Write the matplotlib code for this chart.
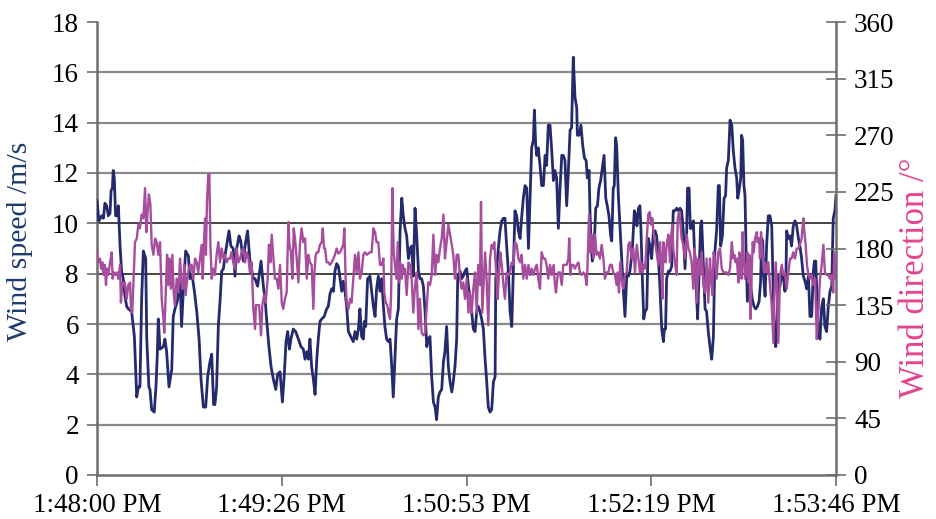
import matplotlib
matplotlib.use("Agg")
import matplotlib.pyplot as plt
from matplotlib.ticker import FixedLocator

# Wind speed record (seconds after 1:48:00 PM, m/s)
speed_t = [
    0.0, 0.9, 2.2, 3.0, 3.7, 4.5, 5.3, 6.1, 6.6, 7.2, 7.6, 8.1, 8.7, 9.4, 10.0,
    10.8, 11.5, 12.3, 13.1, 13.9, 14.7, 16.2, 17.5, 18.6, 19.4, 20.1, 20.9, 21.7, 22.8, 23.3,
    24.3, 24.8, 25.6, 26.8, 27.6, 28.2, 28.7, 29.5, 31.1, 31.8, 32.6, 33.7, 35.0, 35.7, 36.5,
    37.6, 38.9, 39.6, 40.4, 41.5, 42.8, 43.5,
    44.6, 45.6, 46.7, 47.8, 48.7, 49.8, 50.9, 51.8, 52.9, 53.7, 54.6, 55.2, 56.0, 56.8, 57.6,
    58.4, 59.2, 59.9, 61.2, 61.8, 62.7, 63.8, 64.6, 65.4, 66.5, 67.3, 68.5, 69.3, 70.5, 71.6,
    73.2, 74.0, 75.2, 76.8, 77.9, 78.7, 79.4, 80.5, 81.5, 82.6, 83.7, 84.6, 85.7,
    86.8, 87.7, 88.5, 89.3, 90.1, 90.8, 91.9, 93.0, 94.3, 95.5, 96.6, 97.4, 98.2, 99.0, 99.7,
    100.5, 101.3, 102.1, 102.9, 103.6, 104.4, 105.2, 106.4, 107.5, 108.3, 109.1, 109.9, 110.7,
    111.4, 112.2, 113.0, 113.8, 114.6, 115.3, 116.1, 116.9, 117.7, 118.8, 120.0, 120.8, 121.6,
    122.4, 123.1, 123.9, 124.7, 125.2, 125.8, 126.7, 127.8,
    128.6, 129.4, 130.2, 130.9, 131.7, 132.5, 133.3, 134.1, 134.8, 135.6, 136.4, 137.2, 138.0,
    138.7, 139.5, 140.3, 141.1, 141.9, 142.7, 143.4, 144.2, 145.0, 145.8, 146.6, 147.3, 148.1,
    148.9, 149.7, 150.5, 151.2, 152.0, 152.8, 153.6, 154.4, 155.1, 155.9, 156.7, 157.5, 158.3,
    159.0, 159.8, 160.6, 161.4, 162.2, 162.9, 163.7, 164.5, 165.3, 166.1, 166.8, 167.6, 168.4,
    168.9, 170.0,
    170.7, 171.5, 172.3, 173.1, 173.9, 174.6, 175.4, 176.2, 177.0, 177.8, 178.5, 179.3, 180.1,
    180.9, 181.7, 182.4, 183.2, 184.0, 184.8, 185.6, 186.4, 186.7, 187.1, 187.9, 188.7, 189.5,
    190.3, 191.0, 191.8, 192.6, 193.4, 194.2, 194.9, 195.7, 196.5, 197.3, 198.1, 198.8, 199.6,
    200.4, 201.2, 202.0, 202.7, 203.5, 204.3, 204.8, 205.4, 205.9, 206.6, 207.4, 208.2, 209.0,
    209.8, 210.5, 211.3, 212.1,
    212.9, 213.7, 214.4, 215.2, 216.0, 216.8, 217.6, 218.3, 219.1, 219.9, 220.7, 221.5, 222.2,
    223.0, 223.8, 224.6, 224.9, 225.7, 226.6, 227.4, 228.2, 229.0, 229.6, 230.4, 230.8, 231.3,
    231.9, 232.7, 233.5, 234.3, 235.0, 235.8, 236.6, 237.4, 238.2, 238.9, 239.7, 240.5, 241.0,
    241.7, 242.2, 242.8, 243.3, 244.1, 244.9, 245.6, 246.4, 247.2, 248.0, 248.8, 249.5, 250.6,
    251.6, 252.2, 252.8, 253.5, 254.2,
    254.7, 255.3, 256.0, 256.6, 257.4, 258.1, 258.9, 259.7, 260.5, 261.3, 262.0, 262.8, 263.6,
    264.4, 265.2, 265.6, 266.2, 266.7, 267.5, 268.3, 269.1, 269.8, 270.6, 271.4, 272.2, 273.0,
    273.7, 274.5, 275.3, 276.1, 276.5, 277.2, 277.8, 278.4, 279.2, 280.0, 280.8, 281.2, 281.9,
    282.6, 283.1, 283.9, 284.7, 285.4, 286.2, 287.0, 287.8, 288.6, 289.3, 290.1, 290.9, 291.4,
    292.0, 292.8, 293.6, 294.3, 294.8, 295.6, 296.4,
    297.2, 297.9, 298.7, 299.5, 300.0, 300.6, 301.4, 301.8, 302.3, 302.9, 303.4, 303.9, 304.5,
    305.3, 305.7, 306.2, 306.8, 307.6, 308.4, 309.2, 310.0, 310.7, 311.2, 311.7, 312.1, 312.8,
    313.5, 314.3, 315.1, 315.9, 316.3, 317.0, 317.8, 318.4, 319.0, 319.8, 320.6, 321.3, 322.1,
    322.6, 322.9, 323.7, 324.5, 325.2, 326.0, 326.8, 327.6, 328.4, 329.1, 329.9, 330.7, 331.5,
    332.3, 333.1, 333.8, 334.6, 335.4, 335.9, 336.5, 337.1, 337.7, 338.5,
    339.3, 340.1, 340.8, 341.6, 342.4, 343.2, 344.0, 344.7, 345.5, 346.0,
]
speed_ms = [
    10.9, 10.1, 10.3, 10.2, 10.8, 10.7, 10.3, 10.4, 11.3, 11.4, 12.1, 11.8, 10.3, 10.3, 10.7,
    9.1, 8.1, 7.8, 7.1, 6.7, 6.6, 6.5, 5.5, 3.1, 3.5, 3.5, 7.0, 8.9, 8.6, 5.4,
    3.5, 3.4, 2.6, 2.5, 3.5, 4.7, 6.2, 5.0, 5.1, 5.4, 4.9, 3.5, 4.2, 6.3, 6.6,
    6.9, 7.8, 5.9, 7.3, 8.9, 8.7, 7.8,
    7.9, 7.3, 6.5, 5.4, 3.8, 2.7, 2.7, 3.9, 4.5, 4.8, 2.8, 2.8, 3.5, 5.9, 6.9,
    8.1, 8.2, 8.7, 9.4, 9.7, 9.1, 9.0, 7.9, 9.0, 9.5, 9.3, 8.5, 9.1, 9.7, 8.5,
    7.8, 7.8, 7.5, 8.5, 7.5, 7.0, 6.2, 5.1, 4.3, 3.8, 3.4, 4.0, 4.1,
    2.9, 4.0, 5.3, 5.7, 5.0, 5.4, 5.8, 5.7, 5.4, 5.1, 5.0, 4.6, 4.9, 4.6, 5.4,
    4.3, 3.8, 3.2, 4.6, 5.4, 6.1, 6.2, 6.3, 6.6, 6.7, 7.2, 7.4, 7.3,
    8.1, 8.4, 8.3, 7.8, 7.3, 7.7, 7.3, 6.7, 5.7, 5.5, 5.3, 5.7, 5.4,
    5.8, 6.6, 5.5, 5.4, 6.1, 5.9, 7.8, 7.9,
    7.3, 6.7, 6.3, 7.4, 7.9, 7.3, 7.8, 6.7, 5.9, 5.4, 5.3, 5.4, 4.3,
    3.1, 4.7, 6.2, 6.6, 9.7, 11.0, 10.3, 9.8, 9.5, 8.6, 9.0, 9.1, 7.9,
    10.6, 9.5, 8.1, 7.8, 7.8, 7.5, 6.5, 5.1, 5.4, 5.5, 3.9, 2.9, 2.7,
    2.2, 3.1, 3.3, 3.4, 4.5, 4.9, 5.9, 4.3, 3.7, 3.3, 3.7, 4.3, 5.4,
    7.9, 8.1,
    7.8, 7.9, 8.1, 8.2, 7.5, 7.1, 6.5, 5.8, 5.7, 6.5, 6.7, 6.5, 6.2,
    5.8, 4.6, 3.8, 2.7, 2.5, 2.6, 3.7, 3.9, 7.8, 8.1, 9.0, 9.7, 10.1,
    10.2, 10.2, 9.1, 8.1, 6.5, 5.9, 8.1, 10.5, 10.3, 9.7, 9.4, 10.2, 11.0,
    11.5, 11.4, 9.0, 10.9, 13.0, 13.3, 14.5, 13.1, 12.7, 13.0, 12.3, 11.5, 11.5,
    12.7, 12.3, 13.9, 13.9,
    12.9, 11.7, 12.1, 11.8, 9.8, 11.4, 12.7, 12.7, 12.5, 10.7, 12.1, 13.7, 13.8,
    16.6, 15.0, 14.6, 13.5, 13.5, 13.9, 13.1, 12.6, 12.5, 11.8, 12.1, 10.5, 9.3,
    8.5, 8.9, 10.6, 10.7, 11.4, 11.7, 12.2, 12.7, 11.0, 10.7, 10.3, 9.5, 9.3,
    11.4, 11.5, 13.4, 13.1, 11.1, 9.8, 8.6, 7.4, 6.3, 7.9, 7.9, 8.1, 8.9,
    10.5, 10.3, 9.9, 10.6, 10.7,
    9.7, 7.9, 6.2, 6.5, 6.6, 9.4, 9.1, 8.6, 9.7, 9.7, 9.5, 8.7, 7.4,
    5.8, 5.3, 5.8, 5.8, 7.8, 8.1, 8.1, 8.3, 10.5, 10.5, 10.6, 10.5, 10.6,
    10.5, 9.7, 8.2, 9.7, 11.4, 11.4, 9.8, 9.8, 10.1, 8.3, 7.0, 6.2, 8.1,
    9.9, 10.1, 8.3, 6.6, 6.5, 5.7, 5.1, 4.6, 5.5, 8.9, 9.7, 11.5, 11.5,
    9.1, 9.5, 11.0, 11.1, 12.2, 12.5, 14.1,
    13.9, 12.9, 12.2, 11.8, 11.0, 11.3, 11.8, 13.5, 13.3, 11.5, 11.1, 8.9, 6.9,
    8.6, 8.6, 7.4, 7.0, 6.7, 6.6, 6.7, 6.9, 7.7, 9.4, 9.3, 7.9, 7.1,
    9.1, 10.3, 10.3, 9.9, 8.5, 5.7, 5.1, 6.3, 7.9, 7.5, 8.1, 7.9, 7.3,
    8.1, 9.7, 9.4, 9.5, 9.1, 9.9, 10.1, 9.9, 9.4, 9.1, 8.6, 7.9, 7.7,
    7.4, 7.9, 6.3, 6.3, 8.1, 8.5, 8.5, 7.1, 5.7, 5.4,
    6.7, 7.0, 5.9, 5.7, 6.7, 7.3, 7.5, 10.2, 10.5, 11.1,
]

# Wind direction record (seconds after 1:48:00 PM, degrees)
dir_t = [
    0.0, 0.6, 1.4, 1.9, 2.5, 3.0, 3.7, 4.2, 4.7, 5.3, 6.1, 6.9, 7.3, 8.0, 8.7,
    9.4, 10.0, 10.8, 11.2, 11.9, 12.5, 13.1, 13.9, 14.7, 15.5, 15.9, 16.5, 17.2, 17.8, 18.6,
    19.4, 20.1, 20.9, 21.7, 22.5, 23.1, 23.7, 24.3, 25.0, 25.6, 26.4, 27.2, 27.9, 28.7, 29.5,
    30.3, 31.1, 31.5, 32.2, 32.8, 33.4, 34.0, 34.6, 35.3, 35.9, 36.5, 37.3, 38.1, 38.9, 39.6,
    40.3, 40.9, 41.5, 42.4, 43.5,
    44.3, 45.1, 45.9, 46.7, 47.4, 48.2, 49.0, 49.5, 49.9, 50.6, 51.0, 51.5, 52.1, 52.6, 53.1,
    53.7, 54.5, 55.2, 56.0, 56.8, 57.6, 58.4, 59.2, 59.9, 60.7, 61.5, 62.3, 63.0, 63.8, 64.6,
    65.4, 66.2, 67.0, 67.7, 68.5, 69.3, 70.1, 70.9, 71.6, 72.4, 73.2, 74.0, 74.4, 75.1, 75.9,
    76.8, 77.4, 78.3, 79.0, 79.9, 80.5, 81.2, 81.8, 82.6, 83.3, 84.1, 84.9, 85.7,
    86.5, 87.2, 88.0, 88.8, 89.6, 90.1, 90.8, 91.5, 92.1, 92.7, 93.5, 94.3, 95.0, 95.8, 96.6,
    97.4, 98.2, 99.0, 99.7, 100.5, 101.3, 101.8, 102.4, 103.0, 103.6, 104.4, 105.2, 105.7,
    106.3, 106.8, 107.5, 108.3, 109.1, 109.9, 110.7, 111.4, 112.2, 113.0, 113.8, 114.6, 115.3,
    115.8, 116.4, 116.9, 117.7, 118.5, 119.2, 120.0, 120.8, 121.6, 122.4, 123.1, 123.9, 124.7,
    125.5, 126.3, 127.8,
    128.6, 129.4, 130.2, 130.9, 131.7, 132.5, 133.3, 134.1, 134.5, 135.2, 135.9, 136.7, 137.2,
    137.7, 138.3, 138.9, 139.5, 140.2, 140.8, 141.4, 142.0, 142.7, 143.1, 143.7, 144.2, 145.0,
    145.8, 146.6, 147.3, 148.1, 148.9, 149.7, 150.5, 151.2, 152.0, 152.8, 153.6, 154.4, 155.1,
    155.9, 156.7, 157.5, 158.3, 159.0, 159.8, 160.6, 161.4, 162.2, 162.9, 163.7, 164.5, 165.3,
    166.1, 166.8, 167.6, 168.4, 169.2, 170.0,
    170.7, 171.5, 172.3, 173.1, 173.9, 174.6, 175.4, 176.2, 177.0, 177.8, 178.5, 179.3, 179.8,
    180.4, 181.2, 181.7, 182.4, 183.2, 184.0, 184.8, 185.6, 186.0, 186.7, 187.1, 187.6, 188.2,
    188.8, 189.5, 190.3, 191.0, 191.8, 192.6, 193.4, 194.2, 194.9, 195.7, 196.5, 197.3, 198.1,
    198.8, 199.6, 200.4, 201.2, 202.0, 202.7, 203.5, 204.3, 205.1, 205.9, 206.6, 207.4, 208.2,
    209.0, 209.8, 210.5, 211.3, 212.1,
    212.9, 213.8, 214.4, 214.9, 215.5, 216.0, 216.8, 217.6, 218.3, 219.1, 219.9, 220.7, 221.1,
    221.6, 222.2, 223.0, 223.8, 224.6, 225.4, 226.1, 226.9, 227.7, 228.5, 229.3, 229.7, 230.4,
    231.0, 231.6, 232.4, 233.2, 233.9, 234.7, 235.5, 236.3, 237.1, 237.8, 238.6, 239.4, 240.2,
    241.0, 241.7, 242.5, 243.3, 243.8, 244.4, 245.0, 245.6, 246.4, 247.2, 248.0, 248.8, 249.5,
    250.3, 251.1, 251.9, 252.7, 253.5, 254.2,
    254.7, 255.3, 256.0, 256.6, 257.4, 258.1, 258.8, 259.4, 260.0, 260.5, 261.3, 262.0, 262.8,
    263.6, 264.1, 264.7, 265.2, 265.6, 266.2, 266.7, 267.5, 268.3, 268.7, 269.4, 269.8, 270.6,
    271.4, 271.9, 272.5, 273.1, 273.7, 274.5, 275.3, 276.1, 276.9, 277.6, 278.4, 279.2, 279.7,
    280.3, 280.9, 281.5, 282.3, 283.1, 283.9, 284.7, 285.4, 286.2, 287.0, 287.5, 288.1, 288.7,
    289.3, 290.1, 290.9, 291.7, 292.5, 293.3, 294.0, 294.8, 295.6, 296.4,
    297.2, 297.9, 298.4, 299.0, 299.6, 300.3, 300.7, 301.2, 301.8, 302.3, 302.8, 303.4, 303.9,
    304.5, 305.0, 305.4, 306.0, 306.5, 307.0, 307.5, 308.1, 308.9, 309.3, 310.0, 310.4, 310.9,
    311.5, 312.3, 312.8, 313.5, 314.3, 315.1, 315.9, 316.7, 317.1, 317.8, 318.4, 319.0, 319.8,
    320.6, 321.3, 322.1, 322.9, 323.7, 324.5, 325.2, 326.0, 326.8, 327.6, 328.4, 329.1, 329.9,
    330.7, 331.2, 331.8, 332.4, 333.1, 333.8, 334.6, 335.4, 336.2, 337.0, 337.7, 338.5,
    339.3, 340.1, 340.8, 341.6, 342.4, 343.2, 344.0, 344.7, 345.2, 346.0,
]
direction_deg = [
    178, 169, 172, 164, 169, 159, 167, 151, 164, 159, 169, 177, 156, 161, 159,
    161, 156, 167, 137, 153, 151, 153, 140, 151, 153, 132, 129, 159, 185, 188,
    199, 196, 207, 204, 228, 193, 209, 223, 215, 183, 175, 188, 185, 175, 185,
    140, 124, 113, 145, 175, 151, 172, 148, 175, 145, 135, 156, 145, 172, 151,
    148, 167, 143, 159, 167,
    167, 156, 172, 169, 161, 172, 183, 156, 177, 204, 175, 217, 239, 239, 183,
    156, 164, 159, 175, 185, 169, 180, 172, 175, 169, 172, 172, 177, 169, 164,
    180, 169, 172, 177, 180, 169, 177, 172, 161, 169, 132, 116, 135, 135, 135,
    111, 135, 143, 137, 156, 183, 169, 191, 172, 156, 156, 148, 167,
    137, 132, 140, 145, 201, 183, 177, 156, 196, 188, 172, 153, 183, 196, 185,
    188, 156, 175, 169, 167, 132, 161, 175, 177, 177, 183, 185, 196,
    180, 180, 169, 169, 167, 169, 172, 175, 180, 176, 177, 180, 183,
    196, 156, 137, 132, 140, 137, 156, 175, 161, 177, 156, 161, 175,
    177, 175, 177,
    177, 196, 193, 185, 185, 167, 167, 172, 145, 137, 135, 127, 124,
    143, 228, 177, 167, 156, 185, 153, 169, 156, 167, 161, 164, 143,
    169, 167, 156, 129, 151, 161, 116, 140, 113, 111, 113, 135, 153,
    151, 159, 191, 159, 175, 169, 180, 188, 207, 172, 185, 199, 191,
    183, 175, 156, 175, 175, 156,
    148, 153, 140, 156, 129, 145, 129, 148, 161, 129, 167, 151, 217,
    129, 159, 177, 156, 119, 172, 183, 180, 185, 167, 156, 140, 161,
    177, 167, 151, 140, 161, 159, 161, 169, 167, 185, 183, 172, 169,
    175, 156, 167, 156, 167, 159, 164, 159, 164, 167, 156, 148, 177,
    172, 172, 167, 156, 167,
    159, 167, 151, 145, 156, 161, 161, 151, 167, 167, 167, 172, 188,
    159, 167, 167, 164, 167, 169, 161, 159, 161, 159, 151, 169, 207,
    177, 191, 172, 191, 175, 177, 172, 183, 172, 156, 161, 161, 167,
    167, 161, 159, 151, 161, 145, 169, 156, 148, 159, 161, 183, 185,
    172, 180, 161, 183, 172, 161,
    169, 161, 167, 164, 188, 207, 209, 199, 204, 193, 185, 177, 167,
    185, 172, 140, 185, 177, 169, 183, 191, 169, 188, 199, 180, 169,
    159, 204, 209, 201, 188, 183, 172, 191, 180, 177, 169, 148, 180,
    172, 137, 172, 159, 177, 151, 145, 172, 137, 172, 156, 143, 177,
    172, 156, 177, 180, 164, 161, 161, 161, 159, 164,
    185, 172, 175, 169, 172, 153, 177, 169, 156, 193, 172, 156, 161,
    177, 153, 175, 124, 159, 185, 177, 188, 193, 185, 188, 172, 193,
    177, 161, 169, 161, 169, 151, 135, 105, 140, 169, 145, 105, 159,
    167, 159, 161, 148, 161, 172, 172, 177, 172, 180, 180, 183, 188,
    204, 193, 183, 167, 159, 156, 159, 151, 156, 108, 129, 156,
    167, 183, 161, 159, 159, 156, 159, 145, 177, 156,
]

time_ticks_s = [0, 86.5, 173, 259.5, 346]
time_tick_labels = ["1:48:00 PM", "1:49:26 PM", "1:50:53 PM", "1:52:19 PM", "1:53:46 PM"]
speed_ticks = list(range(0, 19, 2))
direction_ticks = list(range(0, 361, 45))

assert len(speed_t) == len(speed_ms), (len(speed_t), len(speed_ms))
assert len(dir_t) == len(direction_deg), (len(dir_t), len(direction_deg))

NAVY = "#242a6c"
MAGENTA = "#a64e9d"
LABEL_BLUE = "#1f3b6e"
LABEL_PINK = "#e4448f"
AXIS_GREY = "#6e6e6e"

plt.rcParams["font.family"] = ["Liberation Serif", "DejaVu Serif"]

W, H = 937, 519
fig = plt.figure(figsize=(W / 100, H / 100), dpi=100)
left, right, top, bottom = 97, 836, 22, 475
ax = fig.add_axes([left / W, 1 - bottom / H, (right - left) / W, (bottom - top) / H])
ax2 = ax.twinx()

# horizontal grid: two of the lines are drawn black
for v in speed_ticks[1:-1]:
    dark = v in (8, 10)
    ax.axhline(v, color="#111111" if dark else "#8a8a8a",
               lw=1.1 if dark else 1.6, zorder=0)

ax.plot(speed_t, speed_ms, color=NAVY, lw=2.0, solid_joinstyle="round", zorder=3)
ax2.plot(dir_t, direction_deg, color=MAGENTA, lw=1.7, solid_joinstyle="round", zorder=3)

ax.set_xlim(0, 346)
ax.set_ylim(0, 18)
ax2.set_ylim(0, 360)

ax.xaxis.set_major_locator(FixedLocator(time_ticks_s))
ax.set_xticklabels(time_tick_labels)
ax.set_yticks(speed_ticks)
ax2.set_yticks(direction_ticks)

for a in (ax, ax2):
    a.spines["top"].set_visible(False)
ax2.spines["left"].set_visible(False)
ax2.spines["bottom"].set_visible(False)
ax.spines["right"].set_visible(False)
for s in (ax.spines["left"], ax.spines["bottom"], ax2.spines["right"]):
    s.set_color(AXIS_GREY)
    s.set_linewidth(1.8)

ax.tick_params(axis="x", direction="out", length=8, width=1.2, color=AXIS_GREY,
               labelsize=19.5, pad=5, labelcolor="black")
ax.tick_params(axis="y", direction="out", length=7, width=1.2, color=AXIS_GREY,
               labelsize=19.5, pad=6, labelcolor="black")
ax2.tick_params(axis="y", direction="inout", length=14, width=1.2, color=AXIS_GREY,
                labelsize=19.5, pad=6, labelcolor="black")

fig.text(20 / W, 1 - 241 / H, "Wind speed /m/s", rotation=90, ha="center", va="center",
         fontsize=21.5, color=LABEL_BLUE)
fig.text(916 / W, 1 - 278 / H, "Wind direction /°", rotation=90, ha="center", va="center",
         fontsize=25, color=LABEL_PINK)

fig.savefig("out.png", dpi=100)
